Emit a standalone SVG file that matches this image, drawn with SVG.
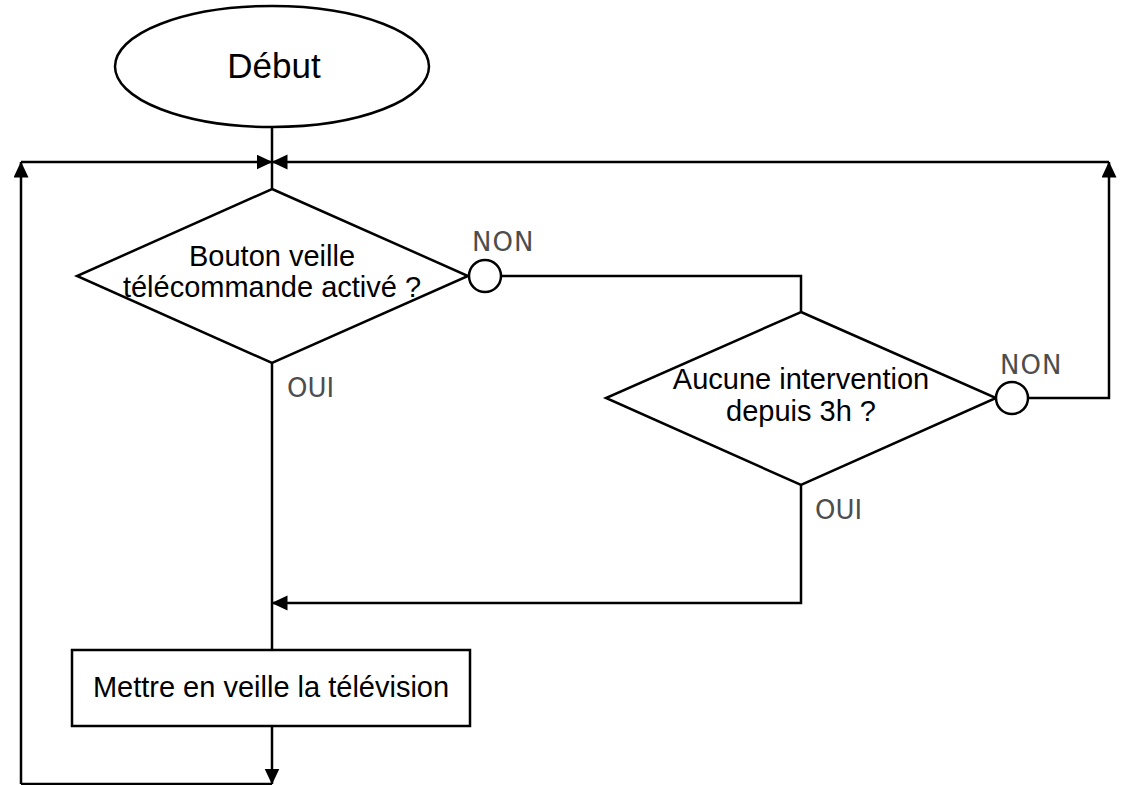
<svg xmlns="http://www.w3.org/2000/svg" width="1122" height="785" viewBox="0 0 1122 785">
  <defs>
    <marker id="arr" markerUnits="userSpaceOnUse" markerWidth="17" markerHeight="16" refX="15.5" refY="7.5" orient="auto">
      <path d="M0,0 L16,7.5 L0,15 z" fill="#000"/>
    </marker>
    <style>
      .shape { fill: #fff; stroke: #000; stroke-width: 2.5; }
      .conn { fill: none; stroke: #000; stroke-width: 2.5; }
      .t { font-family: "Liberation Sans", Arial, sans-serif; fill: #000; text-anchor: middle; }
      .lbl { font-family: "DejaVu Sans", "Liberation Sans", sans-serif; fill: #4d4d4d; font-size: 26px; }
    </style>
  </defs>
  <rect width="1122" height="785" fill="#fff"/>

  <g id="connectors">
    <path class="conn" d="M272,127 L272,189"/>
    <path class="conn" d="M21,784 L21,162" marker-end="url(#arr)"/>
    <path class="conn" d="M21,162 L272,162" marker-end="url(#arr)"/>
    <path class="conn" d="M1109,162 L272,162" marker-end="url(#arr)"/>
    <path class="conn" d="M501,276 L801,276 L801,312"/>
    <path class="conn" d="M1028,398 L1109,398 L1109,162" marker-end="url(#arr)"/>
    <path class="conn" d="M272,363 L272,650"/>
    <path class="conn" d="M801,485 L801,603 L272,603" marker-end="url(#arr)"/>
    <path class="conn" d="M272,726 L272,784" marker-end="url(#arr)"/>
    <path class="conn" d="M21,784 L272,784"/>
  </g>

  <g id="debut">
    <ellipse class="shape" cx="272" cy="66.5" rx="157" ry="60.5"/>
    <text class="t" x="274" y="78" font-size="35">Début</text>
  </g>

  <g id="decision1">
    <polygon class="shape" points="272,189 468,276 272,363 77,276"/>
    <text class="t" x="272" y="266" font-size="29">Bouton veille</text>
    <text class="t" x="272" y="297" font-size="29">télécommande activé ?</text>
  </g>

  <g id="non1">
    <circle class="shape" cx="485" cy="276" r="16"/>
    <text class="lbl" x="472" y="251" letter-spacing="1">NON</text>
  </g>

  <g id="oui1">
    <text class="lbl" x="287" y="397">OUI</text>
  </g>

  <g id="decision2">
    <polygon class="shape" points="801,312 996,398 801,485 606,398"/>
    <text class="t" x="801" y="389" font-size="29">Aucune intervention</text>
    <text class="t" x="801" y="421" font-size="29">depuis 3h ?</text>
  </g>

  <g id="non2">
    <circle class="shape" cx="1012" cy="398" r="16"/>
    <text class="lbl" x="1000" y="374" letter-spacing="1">NON</text>
  </g>

  <g id="oui2">
    <text class="lbl" x="815" y="519">OUI</text>
  </g>

  <g id="action">
    <rect class="shape" x="72" y="650" width="398" height="76"/>
    <text class="t" x="271" y="697" font-size="29">Mettre en veille la télévision</text>
  </g>
</svg>
